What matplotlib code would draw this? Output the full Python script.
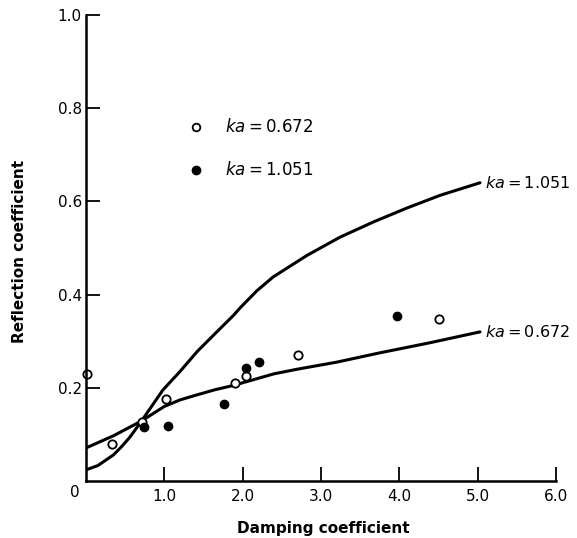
import numpy as np
import matplotlib.pyplot as plt

# measured points
ka1_x = [0.01, 0.33, 0.71, 1.02, 1.90, 2.04, 2.71, 4.51]
ka1_y = [0.230, 0.079, 0.126, 0.176, 0.210, 0.225, 0.270, 0.348]
ka2_x = [0.74, 1.05, 1.76, 2.04, 2.21, 3.97]
ka2_y = [0.116, 0.118, 0.165, 0.242, 0.255, 0.354]

# theoretical curves
curve1_x = [0.0, 0.35, 0.71, 1.0, 1.2, 1.42, 1.65, 1.88, 2.15, 2.4, 2.7, 3.2,
            3.75, 4.4, 5.03]
curve1_y = [0.071, 0.097, 0.129, 0.160, 0.174, 0.185, 0.196, 0.205, 0.218, 0.230,
            0.240, 0.255, 0.275, 0.297, 0.320]
curve2_x = [0.0, 0.15, 0.35, 0.45, 0.56, 0.71, 0.98, 1.2, 1.42, 1.67, 1.88, 1.97,
            2.18, 2.39, 2.82, 3.24, 3.67, 4.10, 4.52, 5.03]
curve2_y = [0.024, 0.033, 0.056, 0.073, 0.094, 0.129, 0.195, 0.235, 0.278, 0.320,
            0.355, 0.372, 0.408, 0.438, 0.484, 0.523, 0.556, 0.586, 0.613, 0.640]

labels = ['0.672', '1.051']
eq = r'$\mathit{ka}$' + '\u2009=\u2009'

fig = plt.figure(figsize=(5.77, 5.38), dpi=100)
ax = fig.add_axes([86 / 577, 1 - 481 / 538, 470 / 577, 466 / 538])

ax.plot(curve1_x, curve1_y, color='black', lw=2.2, solid_capstyle='round',
        solid_joinstyle='round')
ax.plot(curve2_x, curve2_y, color='black', lw=2.2, solid_capstyle='round',
        solid_joinstyle='round')

ax.plot(ka1_x, ka1_y, 'o', ms=6, mfc='white', mec='black', mew=1.3, clip_on=False)
ax.plot(ka2_x, ka2_y, 'o', ms=6, mfc='black', mec='black', clip_on=False)

# key
ax.plot([1.4], [0.76], 'o', ms=5.5, mfc='white', mec='black', mew=1.3)
ax.plot([1.4], [0.667], 'o', ms=6, mfc='black', mec='black')
ax.text(1.78, 0.76, eq + labels[0], fontsize=12, va='center')
ax.text(1.78, 0.667, eq + labels[1], fontsize=12, va='center')

# curve labels
ax.text(5.1, curve2_y[-1], eq + labels[1], fontsize=11.5, va='center')
ax.text(5.1, curve1_y[-1], eq + labels[0], fontsize=11.5, va='center')

ax.set_xlim(0, 6)
ax.set_ylim(0, 1.0)
ax.set_xticks([1, 2, 3, 4, 5, 6])
ax.set_xticklabels(['1.0', '2.0', '3.0', '4.0', '5.0', '6.0'])
ax.set_yticks([0.2, 0.4, 0.6, 0.8, 1.0])
ax.set_yticklabels(['0.2', '0.4', '0.6', '0.8', '1.0'])
ax.tick_params(direction='in', length=10, width=1.3, labelsize=11)
ax.tick_params(axis='x', pad=6)
ax.tick_params(axis='y', pad=3)
ax.annotate('0', (0, 0), xytext=(-8, -8), textcoords='offset points',
            ha='center', va='center', fontsize=11)

for side in ['top', 'right']:
    ax.spines[side].set_visible(False)
for side in ['left', 'bottom']:
    ax.spines[side].set_linewidth(1.8)

fig.text(323 / 577, 1 - 529 / 538, 'Damping coefficient', fontsize=11,
         fontweight='bold', ha='center', va='center')
fig.text(20 / 577, 1 - 251 / 538, 'Reflection coefficient', fontsize=11,
         fontweight='bold', ha='center', va='center', rotation=90)

fig.savefig('out.png', dpi=100)
